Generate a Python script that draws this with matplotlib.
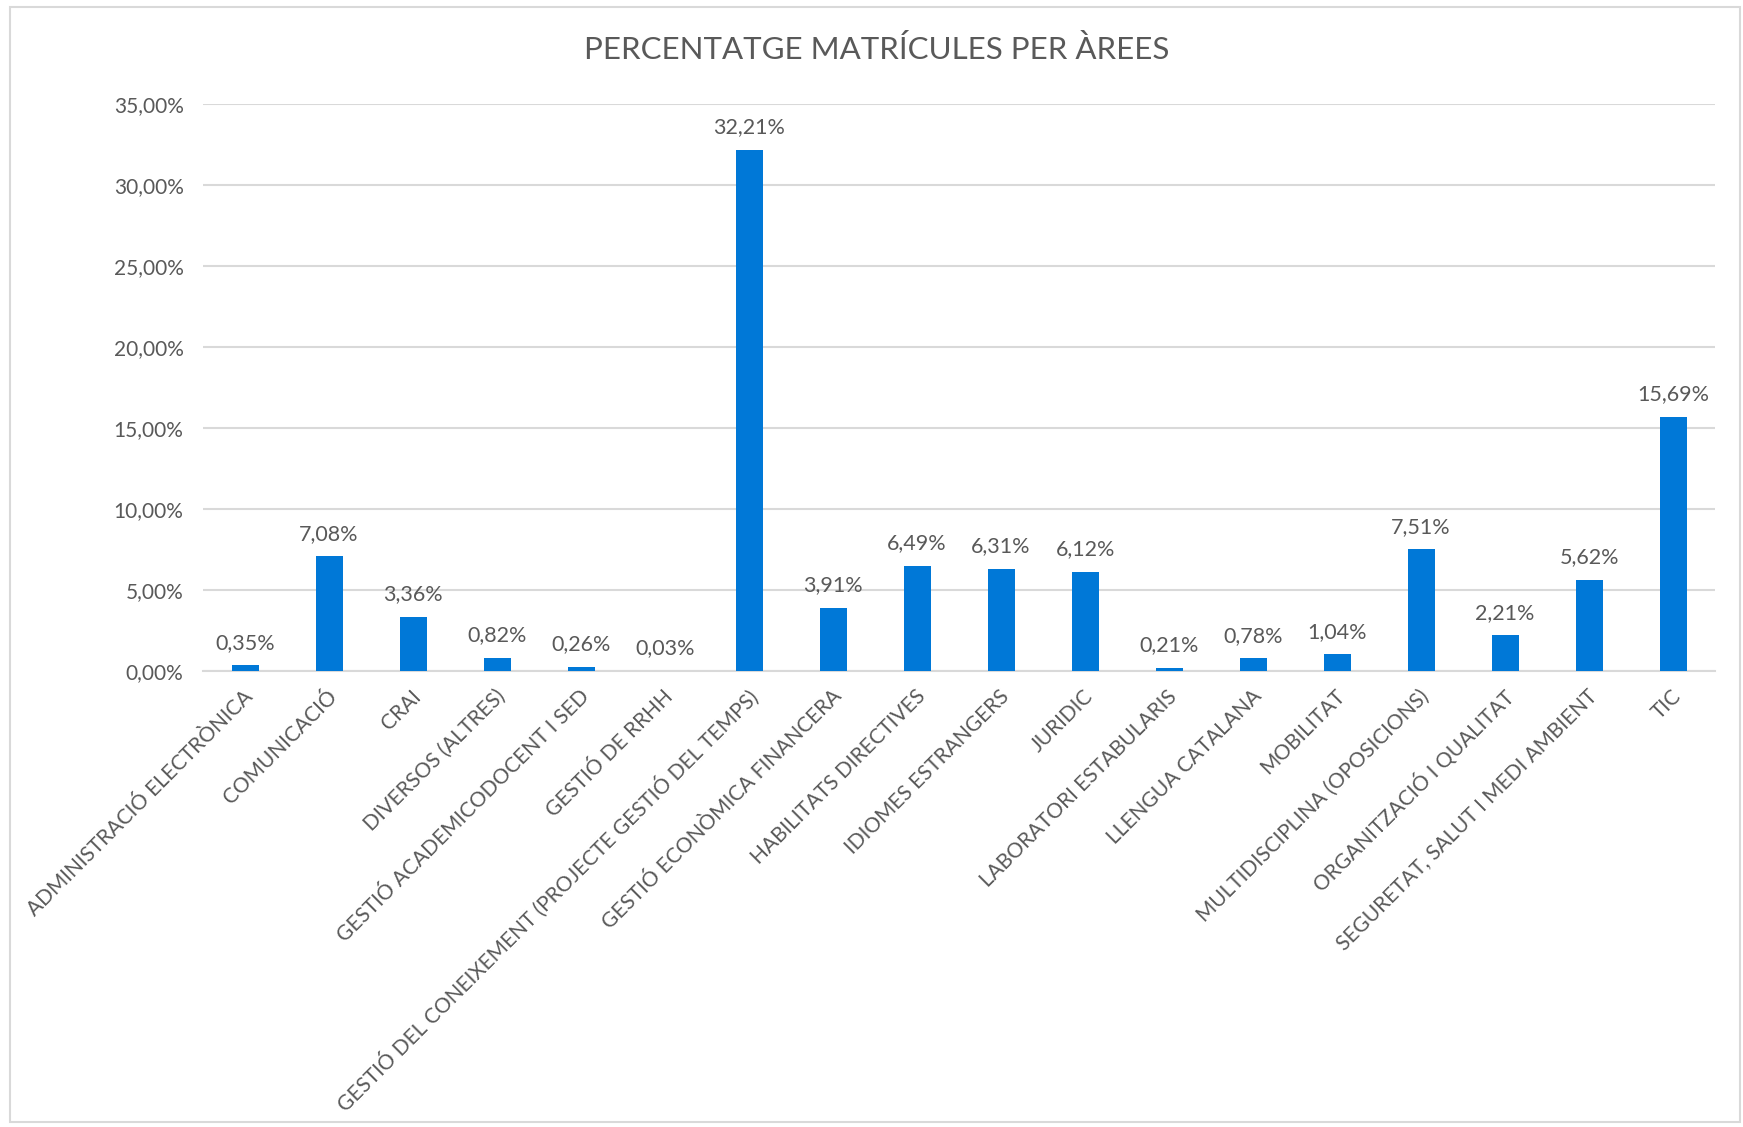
import matplotlib
matplotlib.use('Agg')
import matplotlib.pyplot as plt
import matplotlib.transforms as mtransforms
from matplotlib.patches import Rectangle
from matplotlib.ticker import FuncFormatter

# dades
areas = [
    'ADMINISTRACIÓ ELECTRÒNICA', 'COMUNICACIÓ', 'CRAI', 'DIVERSOS (ALTRES)',
    'GESTIÓ ACADEMICODOCENT I SED', 'GESTIÓ DE RRHH',
    'GESTIÓ DEL CONEIXEMENT (PROJECTE GESTIÓ DEL TEMPS)',
    'GESTIÓ ECONÒMICA FINANCERA', 'HABILITATS DIRECTIVES', 'IDIOMES ESTRANGERS',
    'JURIDIC', 'LABORATORI ESTABULARIS', 'LLENGUA CATALANA', 'MOBILITAT',
    'MULTIDISCIPLINA (OPOSICIONS)', 'ORGANITZACIÓ I QUALITAT',
    'SEGURETAT, SALUT I MEDI AMBIENT', 'TIC',
]
percentatges = [0.35, 7.08, 3.36, 0.82, 0.26, 0.03, 32.21, 3.91, 6.49, 6.31,
                6.12, 0.21, 0.78, 1.04, 7.51, 2.21, 5.62, 15.69]
y_ticks = [0, 5, 10, 15, 20, 25, 30, 35]

TEXT_COLOUR = '#595959'
BAR_COLOUR = '#0078D7'
GRID_COLOUR = '#D9D9D9'

plt.rcParams['font.family'] = ['Lato', 'DejaVu Sans']


def pct(v, pos=None):
    return f"{v:.2f}%".replace('.', ',')


fig = plt.figure(figsize=(17.43, 11.27), dpi=100)
ax = fig.add_axes([0.1165, 0.4046, 0.8675, 0.5027])

x = list(range(len(areas)))
ax.bar(x, percentatges, width=0.32, color=BAR_COLOUR, zorder=3)

for xi, v in zip(x, percentatges):
    ax.annotate(pct(v), (xi, v), xytext=(0, 9), textcoords='offset points',
                ha='center', va='bottom', fontsize=15.5, color=TEXT_COLOUR)

ax.set_xlim(-0.5, len(areas) - 0.5)
ax.set_ylim(0, 35)
ax.set_yticks(y_ticks)
ax.yaxis.set_major_formatter(FuncFormatter(pct))
ax.grid(axis='y', color=GRID_COLOUR, linewidth=1.5, zorder=0)
ax.tick_params(axis='y', length=0, pad=14, labelsize=15, labelcolor=TEXT_COLOUR)
ax.tick_params(axis='x', length=0, pad=16, labelsize=15, labelcolor=TEXT_COLOUR)

ax.set_xticks(x)
ax.set_xticklabels(areas, rotation=45, ha='right', va='center',
                   rotation_mode='anchor')
# nudge the rotated labels a little to the right, like Excel does
shift = mtransforms.ScaledTranslation(5 / 100, 0, fig.dpi_scale_trans)
for lbl in ax.get_xticklabels():
    lbl.set_transform(lbl.get_transform() + shift)

for side in ['left', 'right', 'top']:
    ax.spines[side].set_visible(False)
ax.spines['bottom'].set_color(GRID_COLOUR)
ax.spines['bottom'].set_linewidth(1.5)

fig.text(0.5027, 0.956, 'PERCENTATGE MATRÍCULES PER ÀREES', ha='center',
         va='center', fontsize=22.5, color=TEXT_COLOUR)

# marc del gràfic
fig.patches.append(Rectangle((0.006, 0.004), 0.992, 0.99, transform=fig.transFigure,
                             fill=False, edgecolor=GRID_COLOUR, linewidth=1.5))

plt.savefig('out.png', dpi=100)
